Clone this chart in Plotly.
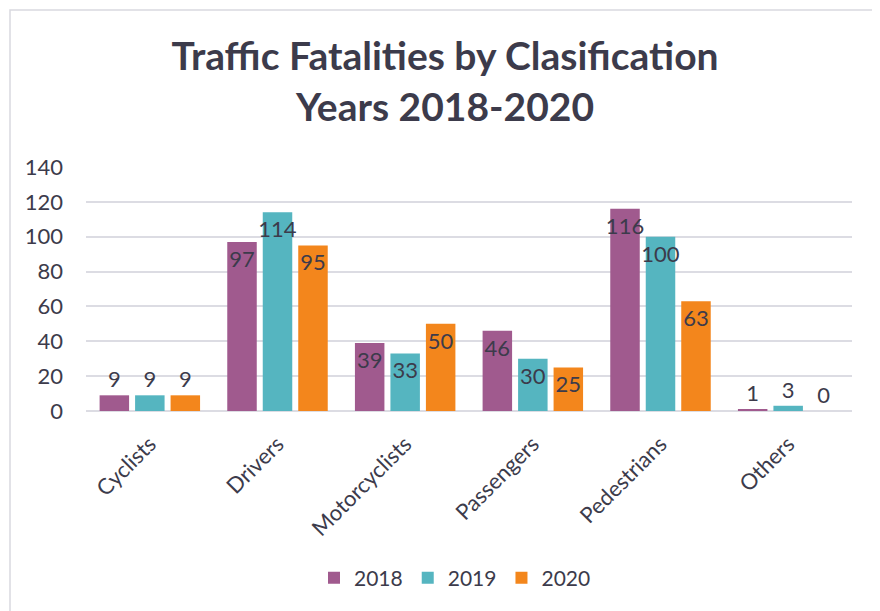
import plotly.graph_objects as go

categories = ["Cyclists", "Drivers", "Motorcyclists", "Passengers", "Pedestrians", "Others"]
years = ["2018", "2019", "2020"]
values_2018 = [9, 97, 39, 46, 116, 1]
values_2019 = [9, 114, 33, 30, 100, 3]
values_2020 = [9, 95, 50, 25, 63, 0]
colors = ["#a05a8e", "#55b5c0", "#f3861c"]
y_ticks = [0, 20, 40, 60, 80, 100, 120, 140]

W, H = 880, 611
OFF = 8  # default page body margin
ML, MR, MT, MB = 86 - OFF, 28 + OFF, 167 - OFF, 200 + OFF
TEXT = "#3c3b4b"
FONT = "Lato"

fig = go.Figure()
for name, vals, col in zip(years, [values_2018, values_2019, values_2020], colors):
    fig.add_trace(go.Bar(
        x=categories, y=vals, name=name,
        marker=dict(color=col, line=dict(width=0)),
        text=[str(v) for v in vals],
        textposition=["inside" if v >= 15 else "outside" for v in vals],
        insidetextanchor="end",
        constraintext="none",
        textangle=0,
        textfont=dict(family=FONT, size=22, color=TEXT),
        insidetextfont=dict(family=FONT, size=22, color=TEXT),
        outsidetextfont=dict(family=FONT, size=22, color=TEXT),
        cliponaxis=False,
    ))

pw = W - ML - MR
ph = H - MT - MB
fig.add_shape(
    type="rect", xref="paper", yref="paper",
    x0=(10 - OFF - ML) / pw, x1=(W + 20 - ML) / pw,
    y0=-(H + 20 - (H - MB)) / ph, y1=((H - MB) - (10 - OFF)) / ph,
    line=dict(color="#d9d9e0", width=1.5), fillcolor="rgba(0,0,0,0)", layer="below",
)

fig.update_layout(
    width=W, height=H,
    margin=dict(l=ML, r=MR, t=MT, b=MB),
    paper_bgcolor="white", plot_bgcolor="white",
    barmode="group", bargap=0.166, bargroupgap=0.169,
    title=dict(
        text="<b>Traffic Fatalities by Clasification<br>Years 2018-2020</b>",
        x=(445 - OFF) / W, xanchor="center", y=1 - (70 - OFF) / H, yanchor="middle",
        font=dict(family=FONT, size=39, color=TEXT),
    ),
    font=dict(family=FONT, color=TEXT),
    legend=dict(
        orientation="h", xref="container", yref="container",
        x=(455 - OFF) / W, xanchor="center", y=1 - (578 - OFF) / H, yanchor="middle",
        font=dict(family=FONT, size=21, color=TEXT),
        itemclick=False,
    ),
    showlegend=True,
)
fig.update_yaxes(
    range=[0, 140], tickvals=y_ticks, showgrid=True,
    gridcolor="#dcdce3", gridwidth=1.6, zeroline=True, zerolinecolor="#dcdce3",
    zerolinewidth=1.6, showline=False, ticks="", ticklabelstandoff=22,
    tickfont=dict(family=FONT, size=22, color=TEXT),
)
fig.update_xaxes(
    tickangle=-45, showgrid=False, showline=False, ticks="",
    tickfont=dict(family=FONT, size=22, color=TEXT),
    ticklabelstandoff=15,
)

fig.write_html("out.html")
